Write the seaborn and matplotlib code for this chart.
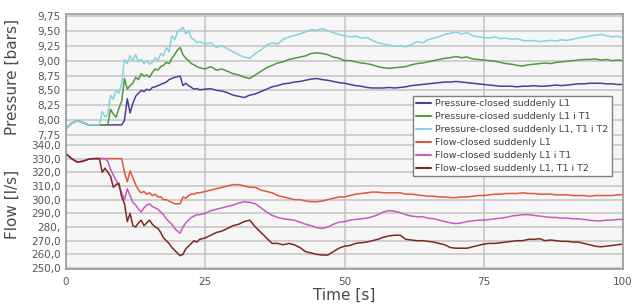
import numpy as np
import pandas as pd
import matplotlib
matplotlib.use("Agg")
import matplotlib.pyplot as plt
import seaborn as sns

# ---------------- data ----------------
time_s = np.concatenate([np.arange(0, 6, 1.0), np.arange(6, 24.5, 0.5), np.arange(25, 101, 1.0)])

start_p = [7.86, 7.95, 7.99, 7.96, 7.92, 7.92]
start_q = [333.5, 330, 327.5, 328, 329.5, 330]

p_L1 = start_p + [
    7.92, 7.92, 7.92, 7.92, 7.92, 7.92, 7.92, 7.92, 7.92, 8.00, 8.36, 8.12, 8.28, 8.40, 8.45, 8.50, 8.48, 8.52, 8.50,
    8.55, 8.56, 8.58, 8.60, 8.62, 8.64, 8.68, 8.70, 8.72, 8.73, 8.74, 8.58, 8.62, 8.58, 8.55, 8.52, 8.53, 8.51] + [
    8.52, 8.53, 8.50, 8.49, 8.46, 8.42, 8.40, 8.38, 8.42, 8.44, 8.48, 8.52, 8.56, 8.58, 8.61, 8.62, 8.64, 8.65, 8.67,
    8.69, 8.70, 8.68, 8.67, 8.65, 8.63, 8.62, 8.60, 8.58, 8.57, 8.55, 8.54, 8.54, 8.54, 8.55, 8.54, 8.55, 8.56, 8.58,
    8.59, 8.60, 8.61, 8.62, 8.63, 8.64, 8.64, 8.65, 8.64, 8.63, 8.62, 8.61, 8.60, 8.59, 8.58, 8.57, 8.57, 8.57, 8.56,
    8.57, 8.57, 8.58, 8.57, 8.57, 8.58, 8.59, 8.58, 8.59, 8.60, 8.61, 8.61, 8.62, 8.62, 8.62, 8.61, 8.61, 8.60, 8.60]

p_L1_T1 = start_p + [
    7.92, 7.92, 7.92, 7.92, 8.18, 8.10, 8.05, 8.20, 8.32, 8.70, 8.52, 8.58, 8.62, 8.72, 8.68, 8.78, 8.74, 8.76, 8.72,
    8.80, 8.86, 8.84, 8.90, 8.92, 8.97, 8.95, 9.04, 9.10, 9.18, 9.22, 9.10, 9.04, 9.00, 8.95, 8.93, 8.90, 8.88] + [
    8.86, 8.90, 8.84, 8.86, 8.82, 8.78, 8.76, 8.72, 8.70, 8.76, 8.82, 8.88, 8.92, 8.96, 8.98, 9.02, 9.04, 9.06, 9.08,
    9.12, 9.13, 9.12, 9.10, 9.06, 9.04, 9.00, 9.00, 8.98, 8.96, 8.95, 8.93, 8.90, 8.88, 8.87, 8.88, 8.89, 8.90, 8.93,
    8.95, 8.96, 8.98, 9.00, 9.02, 9.04, 9.05, 9.07, 9.05, 9.06, 9.03, 9.02, 9.01, 9.00, 8.99, 8.97, 8.95, 8.94, 8.92,
    8.91, 8.93, 8.94, 8.95, 8.96, 8.95, 8.97, 8.98, 8.99, 9.00, 9.01, 9.02, 9.02, 9.03, 9.01, 9.02, 9.00, 9.01, 9.00]

p_L1_T1_T2 = start_p + [
    7.92, 8.15, 8.05, 8.10, 8.42, 8.35, 8.50, 8.45, 8.62, 9.02, 8.95, 9.08, 9.00, 9.10, 8.98, 9.02, 8.95, 9.00, 8.94,
    8.97, 9.05, 9.00, 9.12, 9.08, 9.22, 9.15, 9.42, 9.35, 9.48, 9.52, 9.56, 9.45, 9.50, 9.38, 9.35, 9.30, 9.32] + [
    9.28, 9.30, 9.22, 9.25, 9.20, 9.15, 9.10, 9.06, 9.04, 9.12, 9.18, 9.26, 9.30, 9.28, 9.36, 9.40, 9.42, 9.45, 9.48,
    9.52, 9.51, 9.54, 9.50, 9.47, 9.44, 9.42, 9.40, 9.41, 9.38, 9.39, 9.34, 9.30, 9.28, 9.26, 9.24, 9.25, 9.23, 9.27,
    9.32, 9.30, 9.35, 9.38, 9.40, 9.44, 9.46, 9.48, 9.45, 9.47, 9.42, 9.40, 9.39, 9.38, 9.40, 9.37, 9.38, 9.36, 9.37,
    9.34, 9.33, 9.34, 9.32, 9.33, 9.34, 9.33, 9.35, 9.34, 9.36, 9.38, 9.40, 9.41, 9.43, 9.44, 9.42, 9.40, 9.41, 9.39]

q_L1 = start_q + [
    330, 330, 330, 330, 330, 330, 330, 330, 330, 320, 313, 321, 316, 311, 307, 305, 306, 304, 305,
    303, 304, 302, 302, 300, 300, 299, 298, 297, 297, 297, 302, 301, 303, 304, 304, 305, 305] + [
    306, 307, 308, 309, 310, 311, 311, 310, 309, 309, 307, 306, 305, 303, 302, 301, 300, 300, 299,
    298.5, 298.5, 299, 300, 301, 302, 302, 303, 304, 304.5, 305, 305.5, 305.5, 305, 305, 305, 305, 304, 304,
    303.5, 303, 302.5, 302.5, 302, 302, 301.5, 301.5, 302, 302, 302.5, 303, 303, 303.5, 304, 304, 304.5, 304.5, 304.5,
    305, 304.5, 304.5, 304, 304, 304, 303.5, 303.5, 303.5, 303, 303, 303, 302.5, 303, 303, 303, 303, 303.5, 303.5]

q_L1_T1 = start_q + [
    330, 330, 330, 328, 322, 318, 314, 310, 305, 300, 308, 303, 298, 296, 293, 291, 294, 296, 297,
    295, 294, 293, 291, 289, 286, 284, 282, 279, 277, 275.5, 280, 283, 285, 287, 288, 289, 289] + [
    290, 292, 293, 294, 295, 296, 297.5, 298.5, 298, 297, 294, 291, 288.5, 287, 286, 285.5, 285, 283.5, 282,
    281, 279.5, 279, 280, 282, 283.5, 284, 285, 285.5, 286, 286.5, 287.5, 289, 291, 292, 291.5, 290.5, 289, 288,
    287.5, 287.5, 286.5, 286, 285, 284, 283, 282.5, 283, 284, 284.5, 285, 285, 285.5, 286, 286.5, 287, 288, 288.5,
    289, 289, 288.5, 288, 287.5, 287, 287, 286.5, 286.5, 286, 286, 285.5, 285, 284.5, 284.5, 285, 285, 285.5, 285.5]

q_L1_T1_T2 = start_q + [
    330, 320, 323, 320, 317, 309, 311, 312, 302, 297, 284, 290, 281, 280, 283, 285, 281, 283, 285,
    282, 280, 279, 276, 272, 270, 268, 265, 263, 261, 259, 260, 264, 266, 268, 270, 269, 271] + [
    272, 274, 276, 277, 279, 281, 282, 284, 285, 280, 276, 272, 268, 268, 267, 268, 267, 265, 262,
    261, 260, 259.5, 259.5, 262, 264.5, 266, 266.5, 268, 268.5, 269, 270, 271, 272.5, 273.5, 274, 274, 271, 270.5,
    270, 270, 269.5, 269, 268, 267, 265, 264.5, 264.5, 264.5, 265.5, 266.5, 267.5, 268, 268, 268.5, 269, 269.5, 270,
    270, 271, 271, 271.5, 270, 270.5, 270, 269.5, 269.5, 269, 269, 268, 267, 266, 265.5, 266, 266.5, 267, 267.5]

pressure_names = ["Pressure-closed suddenly L1", "Pressure-closed suddenly L1 i T1",
                  "Pressure-closed suddenly L1, T1 i T2"]
flow_names = ["Flow-closed suddenly L1", "Flow-closed suddenly L1 i T1", "Flow-closed suddenly L1, T1 i T2"]
pressure_colors = ["#4b3f9a", "#4f9a3e", "#86d2de"]
flow_colors = ["#e0583a", "#c45cc4", "#7a2a22"]

p_ticks = [9.75, 9.50, 9.25, 9.00, 8.75, 8.50, 8.25, 8.00, 7.75]
p_ticklabels = ["9,75", "9,50", "9,25", "9,00", "8,75", "8,50", "8,25", "8,00", "7,75"]
q_ticks = [340, 330, 320, 310, 300, 290, 280, 270, 260, 250]
q_ticklabels = ["340,0", "330,0", "320,0", "310,0", "300,0", "290,0", "280,", "270,0", "260,0", "250,0"]
x_ticks = [0, 25, 50, 75, 100]
x_ticklabels = ["0", "25", "50", "75", "100"]

# ---------------- figure ----------------
sns.set_style("white")
plt.rcParams["font.family"] = ["DejaVu Sans"]

W, H = 634, 305
fig = plt.figure(figsize=(W / 100, H / 100), dpi=100)
left, right = 66 / W, 623 / W
ax_p = fig.add_axes([left, 1 - 140 / H, right - left, 126 / H])
ax_q = fig.add_axes([left, 1 - 269 / H, right - left, 129 / H], sharex=ax_p)

grid_c = "#c4c4c4"
frame_c = "#9a9a9a"
tick_c = "#555555"

for ax in (ax_p, ax_q):
    ax.set_facecolor("#f6f6f6")
    ax.grid(True, color=grid_c, lw=1.1, zorder=0)
    ax.set_axisbelow(True)
    ax.tick_params(length=0, colors=tick_c, labelsize=7.5)
    for s in ax.spines.values():
        s.set_color(frame_c)
        s.set_linewidth(1.2)

for vals, name, c in zip([p_L1, p_L1_T1, p_L1_T1_T2], pressure_names, pressure_colors):
    sns.lineplot(x=time_s, y=vals, ax=ax_p, color=c, lw=1.1, label=name, estimator=None)
for vals, name, c in zip([q_L1, q_L1_T1, q_L1_T1_T2], flow_names, flow_colors):
    sns.lineplot(x=time_s, y=vals, ax=ax_q, color=c, lw=1.1, label=name, estimator=None)

h1, l1 = ax_p.get_legend_handles_labels()
h2, l2 = ax_q.get_legend_handles_labels()
ax_p.get_legend().remove()
ax_q.get_legend().remove()

ax_p.set_xlim(0, 100)
ax_p.set_ylim(7.666, 9.784)
ax_q.set_ylim(249.3, 343.6)

ax_p.set_yticks(p_ticks)
ax_p.set_yticklabels(p_ticklabels)
ax_q.set_yticks(q_ticks)
ax_q.set_yticklabels(q_ticklabels)
ax_q.set_xticks(x_ticks)
ax_q.set_xticklabels(x_ticklabels)
ax_p.tick_params(axis="x", labelbottom=False)
ax_p.tick_params(axis="y", pad=4)
ax_q.tick_params(axis="y", pad=4)
ax_q.tick_params(axis="x", pad=6)

ax_p.spines["bottom"].set_visible(False)
ax_q.spines["top"].set_visible(False)

lab_c = "#4a4a4a"
ax_p.set_ylabel("Pressure [bars]", fontsize=11, color=lab_c)
ax_q.set_ylabel("Flow [l/s]", fontsize=11, color=lab_c)
ax_p.yaxis.set_label_coords(-0.083, 0.5)
ax_q.yaxis.set_label_coords(-0.083, 0.5)
ax_q.set_xlabel("Time [s]", fontsize=11, color=lab_c, labelpad=0)
ax_q.set_ylabel("Flow [l/s]", fontsize=11, color=lab_c)

leg = fig.legend(h1 + h2, l1 + l2, loc="upper left", bbox_to_anchor=(413 / W, 1 - 96 / H),
                 fontsize=6.8, frameon=True, fancybox=False, labelspacing=0.42,
                 handlelength=1.6, handletextpad=0.4, borderpad=0.35, borderaxespad=0)
leg.get_frame().set_edgecolor("#808080")
leg.get_frame().set_linewidth(1.0)
leg.get_frame().set_facecolor("white")
leg.get_frame().set_alpha(1)
for txt in leg.get_texts():
    txt.set_color("#404048")
for ln in leg.get_lines():
    ln.set_linewidth(1.5)

fig.savefig("out.png", dpi=100, facecolor="white")
